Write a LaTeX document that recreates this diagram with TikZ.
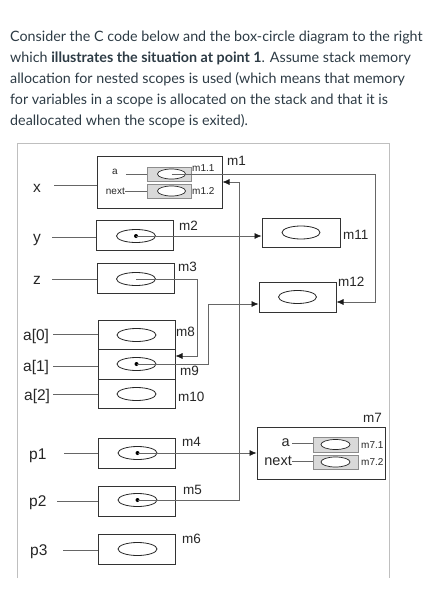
\documentclass[tikz,border=0pt]{standalone}
\usepackage{fontspec}
\setmainfont{Lato}
\newfontfamily\arialfont{Liberation Sans}
\usepackage{xcolor}
\usepackage{tikz}
\usetikzlibrary{arrows.meta, shapes.geometric, positioning}
\definecolor{canvasText}{HTML}{2D3B45}
\tikzset{
    intro/.style={align=left, inner sep=0pt, text=canvasText, font=\fontsize{14.3}{21}\selectfont},
    frame/.style={draw=black!25, line width=1pt},
    cell/.style={rectangle, draw=black!80, line width=1pt, minimum width=77pt, minimum height=30pt, inner sep=0pt},
    sub/.style={rectangle, draw=black!45, fill=black!15, line width=0.6pt, minimum width=44pt, minimum height=14pt, inner sep=0pt},
    val/.style={ellipse, draw=black!85, line width=0.8pt, minimum width=39pt, minimum height=13pt, inner sep=0pt},
    subval/.style={ellipse, draw=black!85, fill=white, line width=0.7pt, minimum width=28pt, minimum height=10pt, inner sep=0pt},
    var/.style={font=\arialfont\fontsize{15.5}{17}\selectfont, text=black!85, inner sep=0pt, anchor=base west},
    tag/.style={font=\arialfont\fontsize{13.5}{15}\selectfont, text=black!85, inner sep=0pt, anchor=west},
    small/.style={font=\arialfont\fontsize{10}{11}\selectfont, text=black!85, inner sep=0pt},
    field/.style={font=\arialfont\fontsize{14.5}{16}\selectfont, text=black!85, inner sep=0pt},
    link/.style={draw=black!60, line width=0.6pt},
    ptr/.style={link, -{Latex[length=7pt, width=6pt, color=black!90]}},
    dot/.style={fill=black}
}

\begin{document}
\begin{tikzpicture}[x=1pt, y=-1pt]
    \useasboundingbox (0,0) rectangle (424,602);

    % Question text
    \node[intro, anchor=north west] (intro) at (10,31) {Consider the C code below and the box-circle diagram to the right\\
        which \textbf{illustrates the situation at point 1}. Assume stack memory\\
        allocation for nested scopes is used (which means that memory\\
        for variables in a scope is allocated on the stack and that it is\\
        deallocated when the scope is exited).};

    % Frame of the diagram
    \draw[frame] (17,578) -- (17,143) -- (389,143) -- (389,578);

    % Struct x (m1)
    \node[cell, minimum width=125pt, minimum height=52pt] (m1) at (159.5,182) {};
    \node[sub] (m11s) at (169,174) {};
    \node[sub] (m12s) at (169,191) {};
    \node[subval] (e11) at (171.5,174) {};
    \node[subval] (e12) at (171.5,191) {};
    \node[small] (fa1) at (115,172) {a};
    \node[small, anchor=east] (fn1) at (125,191) {next};
    \node[small, anchor=west] (t11) at (192,168) {m1.1};
    \node[small, anchor=west] (t12) at (192,191) {m1.2};
    \node[tag] (t1) at (227,161) {m1};

    % Simple cells
    \node[cell] (m2) at (135,235) {};
    \node[val] (e2) at (136,236) {};
    \node[tag] (t2) at (179,226) {m2};
    \node[cell] (m3) at (135.5,278.5) {};
    \node[val] (e3) at (136,279) {};
    \node[tag] (t3) at (178,267) {m3};

    % Array a (m8, m9, m10)
    \node[cell, minimum height=29.5pt] (m8) at (136.5,335) {};
    \node[cell, minimum height=29.5pt] (m9) at (136.5,364.5) {};
    \node[cell, minimum height=29.5pt] (m10) at (136.5,394) {};
    \node[val] (e8) at (136.5,335) {};
    \node[val] (e9) at (136.5,364) {};
    \node[val] (e10) at (136.5,394) {};
    \node[tag] (t8) at (176,332) {m8};
    \node[tag] (t9) at (180,371) {m9};
    \node[tag] (t10) at (178,397) {m10};

    % Pointers p1, p2, p3
    \node[cell] (m4) at (137,453) {};
    \node[val] (e4) at (137.5,453) {};
    \node[tag] (t4) at (182,442) {m4};
    \node[cell] (m5) at (136.5,501) {};
    \node[val] (e5) at (137.5,500) {};
    \node[tag] (t5) at (183,490) {m5};
    \node[cell] (m6) at (137,549) {};
    \node[val] (e6) at (137.5,549) {};
    \node[tag] (t6) at (182,539) {m6};

    % Right column
    \node[cell, minimum width=78pt, minimum height=29pt] (m11) at (301,232.5) {};
    \node[val, minimum width=38pt] (e11b) at (301,232.5) {};
    \node[tag] (t11b) at (343,235) {m11};
    \node[cell] (m12) at (297.5,297) {};
    \node[val, minimum width=38pt] (e12b) at (297.5,297) {};
    \node[tag] (t12b) at (338,282) {m12};

    % Struct m7
    \node[cell, minimum width=128pt, minimum height=52pt] (m7) at (321,453) {};
    \node[sub, minimum width=45pt, minimum height=15pt] (m71s) at (335.5,444.5) {};
    \node[sub, minimum width=45pt] (m72s) at (335.5,462) {};
    \node[subval, minimum width=29pt] (e71) at (335.5,444.5) {};
    \node[subval, minimum width=29pt] (e72) at (335.5,462) {};
    \node[field, anchor=east] (fa7) at (290,443) {a};
    \node[field, anchor=east] (fn7) at (292,461) {next};
    \node[small, anchor=west] (t71) at (361,445) {m7.1};
    \node[small, anchor=west] (t72) at (361,462) {m7.2};
    \node[tag] (t7) at (363,418) {m7};

    % Variable names
    \node[var] (vx) at (33,192) {x};
    \node[var] (vy) at (33,242) {y};
    \node[var] (vz) at (33,284) {z};
    \node[var] (va0) at (23,340) {a[0]};
    \node[var] (va1) at (23,371) {a[1]};
    \node[var] (va2) at (24,400) {a[2]};
    \node[var] (vp1) at (29,459) {p1};
    \node[var] (vp2) at (29,506) {p2};
    \node[var] (vp3) at (30,555) {p3};

    % Free ends of the name lines
    \coordinate (sx) at (54,185);
    \coordinate (sy) at (52,237);
    \coordinate (sz) at (52,279);
    \coordinate (sa0) at (53,334);
    \coordinate (sa1) at (53,366);
    \coordinate (sa2) at (53,394);
    \coordinate (sp1) at (64,453);
    \coordinate (sp2) at (57,501);
    \coordinate (sp3) at (63,550);

    \draw[link] (sx) -- (sx -| m1.west);
    \draw[link] (sy) -- (sy -| m2.west);
    \draw[link] (sz) -- (sz -| m3.west);
    \draw[link] (sa0) -- (sa0 -| m8.west);
    \draw[link] (sa1) -- (sa1 -| m9.west);
    \draw[link] (sa2) -- (sa2 -| m10.west);
    \draw[link] (sp1) -- (sp1 -| m4.west);
    \draw[link] (sp2) -- (sp2 -| m5.west);
    \draw[link] (sp3) -- (sp3 -| m6.west);

    % Field lines
    \draw[link] ([xshift=8pt]fa1.east |- e11) -- (m11s.west);
    \draw[link] (fn1.east) -- (fn1.east -| m12s.west);
    \draw[link] ([xshift=2pt]fa7.east) -- (fa7.east -| m71s.west);
    \draw[link] (fn7.east) -- (fn7.east -| m72s.west);

    % Dots
    \fill[dot] (e2.center) circle (2pt);
    \fill[dot] (e9.center) circle (2pt);
    \fill[dot] (e4.center) circle (2pt);
    \fill[dot] (e5.center) circle (2pt);

    % Pointers
    \draw[ptr] (e11.center) -- (375,174) |- ([yshift=-5pt]m12.east);
    \draw[ptr] (e2.center) -- (e2.center -| m11.west);
    \draw[ptr] (e3.center) -- (197,279) |- ([yshift=8.5pt]m9.east);
    \draw[ptr] (e9.center) -- (208,364) |- ([yshift=-7pt]m12.west);
    \draw[ptr] (e4.center) -- (e4.center -| m7.west);
    \draw[ptr] (e5.center) -- (239,500) |- (m1.east);
\end{tikzpicture}
\end{document}
